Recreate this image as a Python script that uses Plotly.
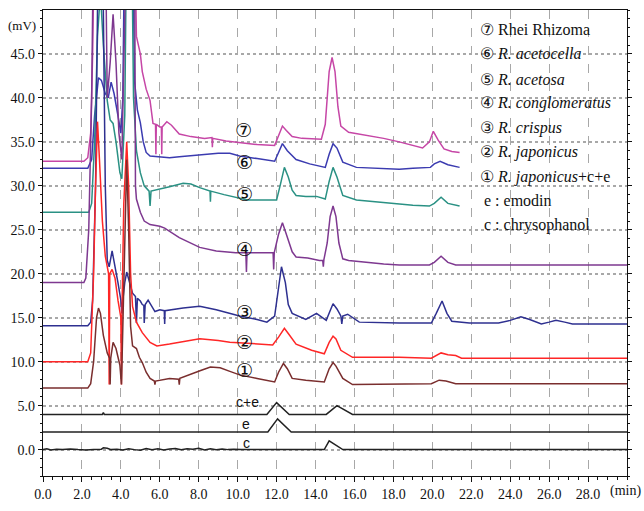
import plotly.graph_objects as go

# ---------------- data (time in min, signal in mV) ----------------
t7 = [0, 2.1, 2.3, 2.45, 2.55, 2.65, 4.7, 4.75, 4.8, 5.0, 5.1, 5.3, 5.5, 5.65, 5.78, 5.8, 5.82, 6.0, 6.08, 6.1, 6.12,
      6.36, 6.6, 7.0, 7.6, 8.3, 8.68, 8.7, 8.72, 9.4, 10.1, 11.0, 11.9, 12.1, 12.3, 12.5, 12.8, 13.3, 14.3, 14.5, 14.7,
      14.85, 15.0, 15.15, 15.3, 15.7, 16.5, 17.5, 18.3, 19.0, 19.5, 19.85, 20.05, 20.3, 20.6, 21.0, 21.4]
v7 = [32.8, 32.8, 33.2, 36, 45, 60, 60, 50, 47, 45, 43, 41, 39.7, 37.1, 37.0, 33.6, 37.0, 36.7, 36.7, 33.6, 36.7,
      37.3, 36.9, 35.9, 35.6, 35.4, 35.5, 34.4, 35.4, 35.1, 34.9, 34.7, 34.6, 35.8, 36.8, 36.3, 35.6, 35.4, 35.3, 37.0, 43.0,
      44.6, 43.0, 39.0, 36.8, 36.1, 35.8, 35.4, 35.0, 34.6, 34.3, 35.0, 36.2, 35.2, 34.2, 33.9, 33.8]

t6 = [0, 2.3, 2.5, 2.65, 2.85, 3.0, 3.2, 3.35, 3.5, 3.65, 3.85, 4.0, 4.1, 4.2, 4.6, 4.7, 4.85, 5.0, 5.15, 5.3, 5.5,
      6.0, 6.5, 7.0, 8.0, 9.0, 9.6, 10.1, 11.0, 11.9, 12.1, 12.3, 12.55, 13.0, 13.7, 14.5, 14.7, 14.9, 15.1, 15.4,
      16.1, 17.0, 18.3, 19.0, 19.9, 20.1, 20.4, 20.8, 21.4]
v6 = [32.0, 32.0, 33.0, 38.0, 42.3, 42.0, 40.5, 40.0, 41.8, 40.5, 38.0, 36.0, 40.0, 60, 60, 42.0, 38.6, 37.2, 35.0, 33.8, 33.4,
      33.3, 33.2, 33.3, 33.5, 33.7, 33.7, 33.4, 33.1, 32.8, 33.8, 34.8, 34.0, 33.0, 32.5, 32.1, 33.6, 34.8, 34.3, 32.7,
      32.1, 32.0, 31.9, 32.0, 32.1, 32.5, 32.8, 32.4, 32.1]

t5 = [0, 2.35, 2.5, 2.65, 2.8, 2.95, 3.1, 3.3, 3.45, 3.6, 3.75, 3.95, 4.05, 4.2, 4.3, 4.55, 4.65, 4.8, 5.0, 5.2, 5.45,
      5.5, 5.55, 6.0, 6.5, 7.2, 7.6, 8.05, 8.58, 8.6, 8.62, 9.3, 10.1, 10.5, 11.0, 12.0, 12.2, 12.4, 12.6, 12.8, 13.0,
      13.5, 14.05, 14.5, 14.7, 14.9, 15.1, 15.4, 16.1, 17.0, 18.3, 19.0, 19.85, 20.1, 20.45, 20.8, 21.4]
v5 = [27.0, 27.0, 28.0, 35.0, 47.0, 52.0, 46.0, 39.7, 37.5, 37.1, 35.0, 31.5, 30.8, 38.0, 60, 60, 40.0, 34.0, 31.5, 30.0, 29.4,
      27.7, 29.4, 29.6, 29.9, 30.3, 30.2, 29.8, 29.4, 28.2, 29.4, 29.0, 28.6, 28.4, 28.4, 28.4, 30.2, 32.1, 31.0, 29.5, 28.9,
      28.8, 28.8, 28.5, 30.5, 32.1, 31.0, 28.9, 28.4, 28.2, 27.9, 27.8, 27.7, 28.0, 28.7, 28.0, 27.7]

t4 = [0, 2.1, 2.2, 2.35, 2.5, 2.6, 3.2, 3.3, 3.45, 3.6, 3.75, 3.9, 4.05, 4.2, 4.3, 4.7, 4.75, 4.8, 5.0, 5.2, 5.5,
      6.0, 6.25, 7.0, 8.05, 8.9, 9.9, 10.42, 10.45, 10.48, 11.0, 11.82, 11.85, 11.88, 12.1, 12.3, 12.5, 12.8, 13.0, 13.6,
      14.2, 14.37, 14.4, 14.43, 14.6, 14.75, 14.9, 15.05, 15.2, 15.4, 15.7, 16.5, 17.5, 18.3, 19.85, 20.1, 20.45, 20.8,
      21.2, 30.0]
v4 = [19.0, 19.0, 19.5, 25.0, 40.0, 60, 60, 40.0, 44.0, 49.5, 44.0, 36.0, 33.0, 45.0, 60, 60, 30.0, 28.5, 27.0, 26.0, 25.6,
      25.4, 25.2, 24.1, 23.0, 22.6, 22.4, 22.4, 20.2, 22.4, 22.4, 22.4, 20.5, 22.4, 24.5, 25.8, 24.5, 22.5, 21.9, 21.8,
      21.5, 21.5, 20.8, 21.6, 23.5, 26.5, 27.7, 26.5, 23.5, 21.7, 21.5, 21.3, 21.1, 21.0, 21.0, 21.3, 22.0, 21.3,
      21.0, 21.0]

t3 = [0, 2.3, 2.45, 2.55, 2.7, 2.85, 3.05, 3.2, 3.3, 3.4, 3.55, 3.7, 3.85, 4.0, 4.05, 4.1, 4.2, 4.3, 4.45, 4.6, 4.75,
      4.8, 4.85, 5.0, 5.1, 5.18, 5.2, 5.25, 5.4, 5.55, 5.75, 6.0, 6.23, 6.25, 6.27, 7.2, 8.05, 8.9, 10.1, 11.0, 11.5,
      11.9, 12.05, 12.25, 12.45, 12.6, 12.8, 13.5, 14.05, 14.3, 14.55, 14.75, 14.9, 15.1, 15.3, 15.35, 15.4, 15.65,
      15.9, 16.25, 18.3, 19.95, 20.2, 20.5, 20.75, 21.0, 21.9, 23.4, 24.0, 24.55, 25.0, 25.6, 26.0, 26.35, 26.8,
      27.2, 30.0]
v3 = [14.1, 14.1, 14.5, 17.0, 30.0, 60, 60, 30.0, 21.5, 20.8, 22.6, 21.0, 19.0, 17.0, 15.5, 17.0, 19.0, 20.2, 19.0, 17.8, 17.4,
      14.4, 17.2, 16.9, 16.5, 16.4, 14.4, 16.5, 17.0, 16.5, 15.7, 15.9, 15.8, 14.3, 15.8, 16.1, 16.3, 15.9, 15.2, 14.8, 14.5,
      15.2, 17.5, 20.8, 19.0, 16.5, 15.5, 14.8, 15.5, 15.1, 14.7, 15.8, 16.6, 16.0, 15.2, 14.3, 15.2, 15.4,
      15.0, 14.5, 14.4, 14.4, 15.5, 16.9, 15.5, 14.6, 14.4, 14.4, 14.7, 15.1, 14.8, 14.3, 14.5, 14.7, 14.5,
      14.3, 14.3]

t2 = [0, 2.3, 2.45, 2.6, 2.7, 2.8, 2.9, 3.05, 3.2, 3.3, 3.37, 3.4, 3.43, 3.55, 3.7, 3.85, 4.0, 4.03, 4.06, 4.15, 4.3,
      4.4, 4.5, 4.6, 4.8, 5.0, 5.1, 5.5, 5.85, 6.5, 7.0, 8.05, 9.0, 9.6, 10.5, 11.8, 12.1, 12.4, 12.6, 13.0, 13.8, 14.45,
      14.7, 14.9, 15.05, 15.3, 15.9, 18.3, 19.95, 20.2, 20.45, 20.8, 21.2, 21.5, 30.0]
v2 = [10.0, 10.0, 11.0, 20.0, 30.0, 37.3, 33.0, 26.0, 22.0, 20.8, 20.0, 7.4, 20.0, 20.5, 19.5, 17.0, 15.0, 7.4, 16.0, 28.0, 35.0,
      30.0, 20.0, 16.3, 14.5, 13.7, 13.3, 12.2, 11.8, 12.0, 12.2, 12.6, 12.4, 12.2, 12.1, 11.9, 12.8, 13.8, 13.2, 12.0, 11.3, 10.9,
      12.2, 12.9, 12.6, 11.3, 10.5, 10.5, 10.4, 10.7, 11.0, 10.8, 10.7, 10.4, 10.4]

t1 = [0, 2.3, 2.45, 2.6, 2.75, 2.85, 2.95, 3.1, 3.3, 3.42, 3.45, 3.48, 3.6, 3.75, 3.95, 4.03, 4.06, 4.15, 4.3, 4.4,
      4.5, 4.6, 4.8, 4.95, 5.1, 5.3, 5.5, 5.72, 5.75, 5.78, 6.5, 6.97, 7.0, 7.03, 7.55, 8.1, 8.6, 9.1, 9.6, 10.1, 11.0,
      11.9, 12.1, 12.35, 12.55, 12.8, 13.5, 14.45, 14.7, 14.9, 15.05, 15.4, 15.9, 19.95, 20.35, 20.7, 21.2, 30.0]
v1 = [7.0, 7.0, 7.5, 10.0, 15.0, 16.1, 15.5, 13.0, 11.0, 10.4, 7.4, 10.4, 12.2, 11.5, 9.6, 7.4, 10.0, 20.0, 33.0, 25.0,
      14.0, 11.8, 11.5, 10.5, 9.9, 8.8, 8.1, 7.8, 7.4, 7.8, 8.1, 8.0, 7.4, 8.1, 8.5, 9.0, 9.4, 9.3, 8.9, 8.5, 8.1,
      7.7, 8.8, 9.8, 9.2, 8.1, 7.9, 7.7, 9.2, 9.9, 9.5, 8.1, 7.4, 7.5, 7.9, 7.8, 7.5, 7.5]

t_ce = [0, 3.05, 3.1, 3.15, 11.5, 12.0, 12.65, 14.55, 15.1, 15.9, 30.0]
v_ce = [4.0, 4.0, 4.2, 4.0, 4.0, 5.35, 4.0, 4.0, 5.0, 4.0, 4.0]

t_e = [0, 11.55, 12.05, 12.75, 30.0]
v_e = [2.0, 2.0, 3.5, 2.0, 2.0]

t_c = [0, 0.2, 0.4, 0.7, 1.0, 1.4, 1.8, 2.2, 2.6, 3.0, 3.1, 3.3, 3.5, 3.8, 4.1, 4.4, 4.7, 5.0, 5.3, 5.6, 5.9, 6.2, 6.5,
       6.8, 7.1, 7.4, 7.7, 8.0, 8.3, 8.6, 8.9, 9.2, 9.5, 9.8, 10.2, 11.0, 12.0, 13.0, 14.45, 14.7, 15.4, 20.0, 30.0]
v_c = [0.0, 0.1, -0.05, 0.05, 0.0, 0.08, 0.0, -0.05, 0.0, 0.05, 0.2, 0.15, 0.0, 0.05, -0.05, 0.1, 0.0, -0.08, 0.12, 0.0, 0.1,
       -0.05, 0.08, 0.12, 0.0, 0.1, 0.05, 0.15, -0.05, 0.1, 0.0, 0.08, 0.0, 0.05, 0.0, 0.0, 0.0, 0.0, 0.0, 1.0, 0.0, 0.0, 0.0]

series = [
    ("⑦", t7, v7, "#C646A6"),
    ("⑥", t6, v6, "#3B3BB0"),
    ("⑤", t5, v5, "#2A9184"),
    ("④", t4, v4, "#7E3890"),
    ("③", t3, v3, "#2E3090"),
    ("②", t2, v2, "#FF2626"),
    ("①", t1, v1, "#7A2E2E"),
    ("c+e", t_ce, v_ce, "#222222"),
    ("e", t_e, v_e, "#222222"),
    ("c", t_c, v_c, "#222222"),
]

curve_labels = ["⑦", "⑥", "⑤", "④", "③", "②", "①", "c+e", "e", "c"]
label_x = [10.3, 10.35, 10.35, 10.35, 10.35, 10.35, 10.35, 10.5, 10.45, 10.45]
label_y = [36.4, 32.7, 29.1, 22.8, 15.6, 12.2, 9.0, 5.4, 2.9, 0.7]

legend_lines = ["⑦ Rhei Rhizoma", "⑥ <i>R. acetocella</i>", "⑤ <i>R. acetosa</i>",
                "④ <i>R. conglomeratus</i>", "③ <i>R. crispus</i>", "② <i>R. japonicus</i>",
                "① <i>R. japonicus</i>+c+e", " e : emodin", " c : chrysophanol"]
legend_y = [47.8, 45.0, 42.1, 39.4, 36.6, 33.8, 31.0, 28.3, 25.5]

x_ticks = [0, 2, 4, 6, 8, 10, 12, 14, 16, 18, 20, 22, 24, 26, 28]
x_ticktext = ["0.0", "2.0", "4.0", "6.0", "8.0", "10.0", "12.0", "14.0", "16.0", "18.0", "20.0",
              "22.0", "24.0", "26.0", "28.0"]
y_ticks = [0, 5, 10, 15, 20, 25, 30, 35, 40, 45]
y_ticktext = ["0.0", "5.0", "10.0", "15.0", "20.0", "25.0", "30.0", "35.0", "40.0", "45.0"]

# ---------------- figure ----------------
fig = go.Figure()
for name, tx, vy, col in series:
    fig.add_trace(go.Scatter(x=tx, y=vy, mode="lines", name=name,
                             line=dict(color=col, width=1.5), showlegend=False))

serif = "Liberation Serif"
for lab, lx, ly in zip(curve_labels, label_x, label_y):
    fnt = dict(family="DejaVu Sans", size=19, color="#111") if lab[0] in "①②③④⑤⑥⑦" else \
        dict(family="Liberation Sans", size=14, color="#111")
    fig.add_annotation(x=lx, y=ly, text=lab, showarrow=False, font=fnt)

for txt, ly in zip(legend_lines, legend_y):
    fig.add_annotation(x=0.745, xref="paper", y=ly, yref="y", text=txt, showarrow=False,
                       xanchor="left", font=dict(family=serif, size=16, color="#111"))

fig.add_annotation(x=-0.008, xref="paper", y=48.2, yref="y", text="(mV)", showarrow=False,
                   xanchor="right", font=dict(family=serif, size=13, color="#111"))
fig.add_annotation(x=29.0, y=0, xref="x", yref="paper", yshift=-15, text="(min)", showarrow=False,
                   xanchor="left", yanchor="middle", font=dict(family=serif, size=14, color="#111"))

fig.update_xaxes(range=[0, 30], tickvals=x_ticks, ticktext=x_ticktext,
                 showline=True, linecolor="#111", linewidth=1.2, mirror=True,
                 ticks="outside", ticklen=5, tickcolor="#111",
                 minor=dict(dtick=0.5, ticks="outside", ticklen=3, tickcolor="#111", showgrid=False),
                 showgrid=True, gridcolor="#A8A8A8", griddash="dash", gridwidth=1,
                 zeroline=False, tickfont=dict(family=serif, size=14, color="#111"))
fig.update_yaxes(range=[-3, 50], tickvals=y_ticks, ticktext=y_ticktext,
                 showline=True, linecolor="#111", linewidth=1.2, mirror="ticks",
                 ticks="outside", ticklen=4, tickcolor="#111",
                 minor=dict(dtick=1, ticks="outside", ticklen=2, tickcolor="#111", showgrid=False),
                 showgrid=True, gridcolor="#A8A8A8", griddash="dot", gridwidth=1.5,
                 zeroline=False, tickfont=dict(family=serif, size=14, color="#111"))

fig.update_layout(width=644, height=511, margin=dict(l=43, r=17, t=9, b=29),
                  plot_bgcolor="white", paper_bgcolor="white")

fig.write_html("out.html", config={"displayModeBar": False},
               post_script="document.body.style.margin='0';document.body.style.overflow='hidden';")
